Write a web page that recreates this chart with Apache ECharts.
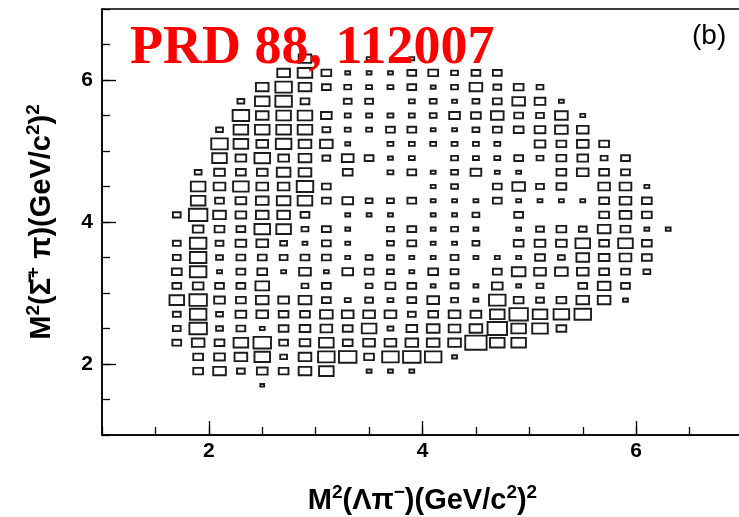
<!DOCTYPE html>
<html><head><meta charset="utf-8">
<script src="https://cdn.jsdelivr.net/npm/echarts@6/dist/echarts.min.js"></script>
<style>html,body{margin:0;padding:0;background:#fff}#c{width:739px;height:517px}</style>
</head><body><div id="c"></div>
<script>
// bin centres along x (M^2(Lambda pi-)), bin width 0.2
const xBins = [1.7,1.9,2.1,2.3,2.5,2.7,2.9,3.1,3.3,3.5,3.7,3.9,4.1,4.3,4.5,4.7,4.9,5.1,5.3,5.5,5.7,5.9,6.1,6.3];
// box contents per row (y bin centre), 0 = empty bin
const row63 = [0,0,0,0,0,0,13,0,0,5,0,5,0,0,0,0,0,0,0,0,0,0,0,0];
const row61 = [0,0,0,0,0,13,15,10,5,5,5,9,10,7,9,9,0,0,0,0,0,0,0,0];
const row59 = [0,0,0,0,13,17,13,9,7,6,6,9,5,7,13,8,10,7,0,0,0,0,0,0];
const row57 = [0,0,0,7,15,17,9,0,8,8,0,6,7,5,7,9,13,11,5,0,0,0,0,0];
const row55 = [0,0,0,17,13,15,15,11,6,6,6,6,7,11,10,13,9,8,13,5,0,0,0,0];
const row53 = [0,0,7,15,15,15,15,8,6,6,9,9,5,5,7,9,10,11,13,12,0,0,0,0];
const row51 = [0,0,17,15,12,16,13,13,5,0,6,6,6,6,6,6,0,11,10,12,10,0,0,0];
const row49 = [0,0,15,11,16,11,13,8,12,9,5,6,0,7,6,6,9,7,10,11,7,9,0,0];
const row47 = [0,7,11,10,11,14,13,0,10,0,6,9,5,7,11,5,5,0,10,12,10,9,0,0];
const row45 = [0,15,12,16,12,12,17,9,0,0,0,0,5,7,0,9,13,8,10,0,12,12,5,0];
const row43 = [0,15,9,11,13,14,15,9,11,7,7,9,5,5,5,9,5,5,5,5,10,12,10,0];
const row41 = [8,19,13,11,13,13,9,0,5,5,5,0,5,5,7,0,9,0,0,0,10,12,10,0];
const row39 = [0,11,10,9,16,15,7,9,5,0,7,9,5,7,5,0,5,8,10,8,13,10,5,5];
const row37 = [8,17,8,11,12,7,5,9,5,0,7,9,5,5,7,0,10,11,11,15,10,15,10,0];
const row35 = [8,17,7,9,9,8,9,9,5,7,7,5,5,8,5,5,5,10,7,13,11,12,10,0];
const row33 = [10,17,5,9,10,5,12,5,11,9,7,5,10,8,0,9,14,12,13,12,10,9,7,0];
const row31 = [9,11,9,9,14,0,7,9,0,7,10,9,5,8,5,11,5,7,0,9,13,9,0,0];
const row29 = [15,18,11,10,13,11,13,9,6,8,6,9,12,7,5,17,10,8,10,13,13,5,0,0];
const row27 = [8,17,7,11,12,10,10,13,12,12,12,8,10,12,11,15,19,15,16,17,0,0,0,0];
const row25 = [8,18,7,9,5,10,11,12,10,15,6,11,13,12,13,20,15,16,10,0,0,0,0,0];
const row23 = [9,13,10,15,18,9,11,15,10,12,12,13,13,13,22,15,15,0,0,0,0,0,0,0];
const row21 = [0,10,11,13,16,7,13,17,18,10,17,18,17,5,0,0,0,0,0,0,0,0,0,0];
const row19 = [0,10,13,8,11,10,13,15,0,5,5,5,0,0,0,0,0,0,0,0,0,0,0,0];
const row17 = [0,0,0,0,4,0,0,0,0,0,0,0,0,0,0,0,0,0,0,0,0,0,0,0];
const yBins = [6.3,6.1,5.9,5.7,5.5,5.3,5.1,4.9,4.7,4.5,4.3,4.1,3.9,3.7,3.5,3.3,3.1,2.9,2.7,2.5,2.3,2.1,1.9,1.7];
const rowList = [row63,row61,row59,row57,row55,row53,row51,row49,row47,row45,row43,row41,row39,row37,row35,row33,row31,row29,row27,row25,row23,row21,row19,row17];
const xTicks = [2,4,6];
const yTicks = [2,4,6];

const data = [];
rowList.forEach((vals, r) => vals.forEach((v, i) => { if (v > 0) data.push([xBins[i], yBins[r], v]); }));
const vMax = Math.max(...data.map(d => d[2]));
const binW = 0.2;

const chart = echarts.init(document.getElementById('c'), null, {renderer: 'canvas'});
const FF = '"Liberation Sans", Arial, sans-serif';
const labelStyle = {fontFamily: FF, fontSize: 21, color: '#000', fontWeight: 'bold'};
const titleRich = {
  t: {fontFamily: FF, fontSize: 29, fontWeight: 'bold', color: '#000', lineHeight: 32, verticalAlign: 'bottom'},
  s: {fontFamily: FF, fontSize: 19, fontWeight: 'bold', color: '#000', lineHeight: 20, verticalAlign: 'top'}
};
function minorAxis(kind) {
  return {
    type: 'value', min: 1, max: 7, interval: 0.5,
    axisLine: {show: true, lineStyle: {color: '#000', width: 1.5}},
    axisTick: {show: true, inside: true, length: 8, lineStyle: {color: '#000', width: 1.3}},
    splitLine: {show: false},
    axisLabel: Object.assign({margin: kind === 'x' ? 6 : 9, customValues: kind === 'x' ? xTicks : yTicks, formatter: v => String(v)}, labelStyle)
  };
}
function majorAxis(kind) {
  return {
    type: 'value', min: 1, max: 7, interval: 0.5, position: kind === 'x' ? 'bottom' : 'left', offset: 0,
    axisLine: {show: false},
    axisTick: {show: true, inside: true, length: 14, customValues: kind === 'x' ? xTicks : yTicks, lineStyle: {color: '#000', width: 1.3}},
    axisLabel: {show: false}, splitLine: {show: false}
  };
}
const xMain = Object.assign(minorAxis('x'), {
  position: 'bottom',
  name: '{t|M}{s|2}{t|(Λπ}{s|−}{t|)(GeV/c}{s|2}{t|)}{s|2}', nameLocation: 'middle', nameGap: 48,
  nameTextStyle: {rich: titleRich}
});
const yMain = Object.assign(minorAxis('y'), {
  position: 'left',
  name: '{t|M}{s|2}{t|(Σ̄}{s|+}{t| π)(GeV/c}{s|2}{t|)}{s|2}', nameLocation: 'middle', nameGap: 46,
  nameTextStyle: {rich: titleRich}
});

chart.setOption({
  animation: false,
  backgroundColor: '#fff',
  grid: {left: 102, width: 641, top: 9, height: 426, outerBoundsMode: 'none', containLabel: false,
         show: true, borderColor: '#000', borderWidth: 1.5, backgroundColor: 'transparent'},
  xAxis: [xMain, majorAxis('x')],
  yAxis: [yMain, majorAxis('y')],
  series: [{
    type: 'custom',
    xAxisIndex: 0, yAxisIndex: 0,
    clip: true,
    data: data,
    renderItem: function (params, api) {
      const c = api.coord([api.value(0), api.value(1)]);
      const s = api.size([binW, binW]);
      const f = api.value(2) / vMax;
      const w = s[0] * f, h = s[1] * f;
      return {type: 'rect', shape: {x: c[0] - w / 2, y: c[1] - h / 2, width: w, height: h},
        style: {fill: null, stroke: '#1c1c1c', lineWidth: 1.9}};
    }
  }],
  graphic: [
    {type: 'text', left: 130, top: 22, z: 100,
     style: {text: 'PRD 88, 112007', fill: '#ff0000', font: 'bold 54px "Liberation Serif", "Times New Roman", serif'}},
    {type: 'text', left: 692, top: 22, z: 100,
     style: {text: '(b)', fill: '#000', font: '28px "Liberation Sans", Arial, sans-serif'}}
  ]
});
</script></body></html>
